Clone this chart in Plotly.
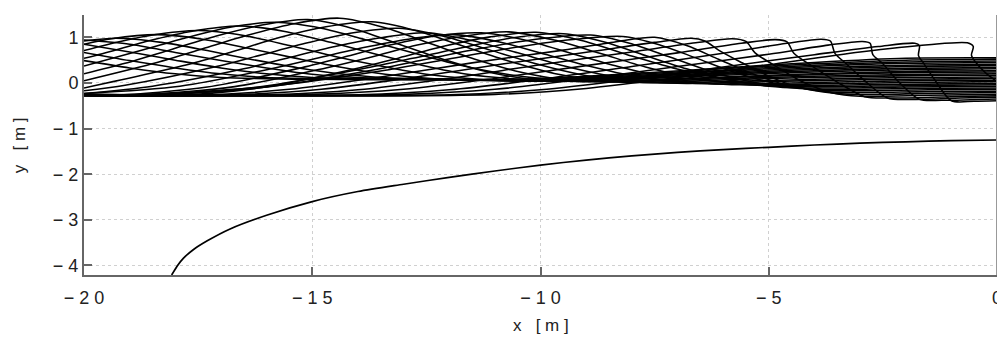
import plotly.graph_objects as go

# ---- bottom profile ----
bottom_x = [-18.08, -17.95, -17.82, -17.6, -17.3, -16.8, -16.0, -15.0, -14.0, -13.0, -12.0, -11.0,
            -10.0, -9.0, -8.0, -7.0, -6.0, -5.0, -4.0, -3.0, -2.0, -1.0, 0.0]
bottom_y = [-4.21, -4.00, -3.84, -3.65, -3.46, -3.20, -2.90, -2.60, -2.38, -2.22, -2.07, -1.93,
            -1.80, -1.69, -1.60, -1.52, -1.46, -1.41, -1.36, -1.32, -1.29, -1.265, -1.25]

# ---- free-surface snapshots (estimated knots, one pair per snapshot) ----
w00_x = [-20, -19, -18, -17, -15, -12.5, -10.5, -8, -6, -4, -2, 0]
w00_y = [0.49, 0.33, 0.20, 0.12, 0.08, 0.07, 0.08, 0.20, 0.33, 0.45, 0.54, 0.55]
w01_x = [-20, -19, -18, -17, -16, -14, -12, -10.5, -8, -6, -4, -2, 0]
w01_y = [0.67, 0.49, 0.33, 0.20, 0.12, 0.09, 0.07, 0.07, 0.18, 0.31, 0.42, 0.50, 0.52]
w02_x = [-20, -19, -18, -17, -16, -15, -13, -10.5, -8, -6, -4, -2, 0]
w02_y = [0.85, 0.68, 0.50, 0.33, 0.20, 0.12, 0.09, 0.06, 0.16, 0.28, 0.39, 0.46, 0.48]
w03_x = [-20, -19, -18, -17, -16, -15, -14, -12, -10.5, -8, -6, -4, -2, 0]
w03_y = [0.94, 0.85, 0.67, 0.49, 0.33, 0.19, 0.12, 0.08, 0.05, 0.14, 0.26, 0.36, 0.43, 0.45]
w04_x = [-20, -19.3, -18.3, -17.3, -16.3, -15.3, -14.3, -13.3, -12, -10.5, -8, -6, -4, -2, 0]
w04_y = [0.92, 0.98, 0.89, 0.71, 0.51, 0.33, 0.19, 0.11, 0.08, 0.04, 0.12, 0.23, 0.33, 0.39, 0.41]
w05_x = [-20, -19.4, -18.4, -17.4, -16.4, -15.4, -14.4, -13.4, -12.4, -11, -10, -8, -6, -4, -2, 0]
w05_y = [0.85, 0.97, 1.06, 0.96, 0.76, 0.55, 0.35, 0.19, 0.10, 0.06, 0.04, 0.11, 0.21, 0.30, 0.36, 0.38]
w06_x = [-20, -19.5, -18.5, -17.5, -16.5, -15.5, -14.5, -13.5, -12.5, -11.5, -10.5, -9.5, -8, -6, -4, -2, 0]
w06_y = [0.71, 0.84, 1.05, 1.15, 1.04, 0.82, 0.58, 0.37, 0.19, 0.09, 0.05, 0.04, 0.09, 0.19, 0.27, 0.32, 0.34]
w07_x = [-20, -19.6, -18.6, -17.6, -16.6, -15.6, -14.6, -13.6, -12.6, -11.6, -10.6, -9.5, -8, -6, -4, -2, 0]
w07_y = [0.54, 0.64, 0.92, 1.14, 1.25, 1.13, 0.89, 0.63, 0.39, 0.19, 0.09, 0.04, 0.08, 0.17, 0.24, 0.29, 0.31]
w08_x = [-20, -18.8, -17.8, -16.8, -15.8, -14.8, -13.8, -12.8, -11.8, -10.8, -9.8, -9, -7, -5, -3, -1.5, 0]
w08_y = [0.37, 0.70, 0.98, 1.22, 1.33, 1.20, 0.94, 0.66, 0.40, 0.20, 0.08, 0.04, 0.09, 0.17, 0.23, 0.26, 0.27]
w09_x = [-20, -19.1, -18.1, -17.1, -16.1, -15.1, -14.1, -13.1, -12.1, -11.1, -10.1, -9.2, -7, -5, -3, -1.5, 0]
w09_y = [0.20, 0.43, 0.73, 1.03, 1.27, 1.39, 1.19, 0.85, 0.51, 0.23, 0.07, 0.03, 0.08, 0.15, 0.21, 0.23, 0.24]
w10_x = [-20, -18.4, -17.4, -16.4, -15.4, -14.4, -13.4, -12.4, -11.4, -10.4, -9.4, -8.6, -7, -5, -3, -1.5, 0]
w10_y = [0.05, 0.45, 0.75, 1.05, 1.30, 1.42, 1.21, 0.86, 0.51, 0.23, 0.06, 0.02, 0.06, 0.12, 0.17, 0.19, 0.20]
w11_x = [-20, -17.7, -16.7, -15.7, -14.7, -13.7, -12.7, -11.7, -10.7, -9.7, -8.7, -8, -6.5, -4.5, -2.5, -1, 0]
w11_y = [-0.11, 0.41, 0.70, 1.00, 1.23, 1.34, 1.14, 0.81, 0.48, 0.21, 0.05, 0.01, 0.05, 0.11, 0.15, 0.17, 0.17]
w12_x = [-20, -19.1, -17.1, -16.1, -15.1, -14.1, -13.1, -12.1, -11.1, -10.1, -9.1, -8.1, -7.4, -6, -4, -2, 0]
w12_y = [-0.17, -0.05, 0.36, 0.62, 0.88, 1.10, 1.20, 1.02, 0.72, 0.42, 0.18, 0.04, 0.00, 0.03, 0.08, 0.12, 0.13]
w13_x = [-20, -18.5, -16.5, -15.5, -14.5, -13.5, -12.5, -11.5, -10.5, -9.5, -8.5, -7.5, -6.8, -5, -3, -1, 0]
w13_y = [-0.23, -0.07, 0.31, 0.56, 0.80, 0.99, 1.10, 0.93, 0.66, 0.38, 0.16, 0.02, -0.01, 0.03, 0.07, 0.09, 0.10]
w14_x = [-20, -17.9, -15.9, -14.9, -13.9, -12.9, -11.9, -10.9, -9.9, -8.9, -7.9, -6.9, -6.2, -4.5, -2.5, -1, 0]
w14_y = [-0.23, -0.07, 0.31, 0.54, 0.77, 0.96, 1.06, 0.90, 0.63, 0.36, 0.14, 0.01, -0.02, 0.00, 0.04, 0.06, 0.06]
w15_x = [-20, -19.3, -17.3, -15.3, -14.3, -13.3, -12.3, -11.3, -10.3, -9.3, -8.3, -7.3, -6.3, -5.6, -4, -2, 0]
w15_y = [-0.27, -0.27, -0.09, 0.32, 0.57, 0.83, 1.03, 1.10, 0.93, 0.64, 0.36, 0.13, -0.01, -0.04, -0.02, 0.01, 0.03]
w16_x = [-20, -18.7, -16.7, -14.7, -13.7, -12.7, -11.7, -10.7, -9.7, -8.7, -7.7, -6.7, -5.7, -5.0, -3, -1, 0]
w16_y = [-0.25, -0.25, -0.08, 0.33, 0.57, 0.83, 1.02, 1.12, 0.94, 0.65, 0.35, 0.12, -0.02, -0.06, -0.04, -0.02, -0.01]
w17_x = [-20, -18.1, -16.1, -14.1, -13.1, -12.1, -11.1, -10.1, -9.1, -8.1, -7.1, -6.1, -5.1, -4.4, -2, 0]
w17_y = [-0.28, -0.28, -0.10, 0.30, 0.55, 0.81, 1.01, 1.11, 0.93, 0.62, 0.33, 0.11, -0.04, -0.08, -0.06, -0.04]
w18_x = [-20, -18.3, -16.1, -13.9, -12.8, -11.7, -10.6, -9.5, -8.6, -7.7, -6.8, -5.9, -5.0, -4.3, -2, 0]
w18_y = [-0.26, -0.26, -0.08, 0.31, 0.54, 0.78, 0.99, 1.08, 0.90, 0.60, 0.31, 0.07, -0.07, -0.11, -0.09, -0.07]
w19_x = [-20, -18.5, -16.1, -13.7, -12.5, -11.3, -10.1, -8.9, -8.05, -7.2, -6.35, -5.5, -4.65, -4.0, -2, 0]
w19_y = [-0.27, -0.27, -0.10, 0.28, 0.52, 0.76, 0.96, 1.05, 0.87, 0.58, 0.28, 0.05, -0.09, -0.14, -0.12, -0.11]
w20_x = [-20, -18.6, -16.0, -13.4, -12.1, -10.8, -9.5, -8.2, -7.4, -6.6, -5.8, -5.0, -4.2, -3.6, -1.5, 0]
w20_y = [-0.25, -0.25, -0.08, 0.28, 0.51, 0.74, 0.93, 1.02, 0.84, 0.55, 0.25, 0.02, -0.12, -0.17, -0.15, -0.14]
w21_x = [-20, -17.5, -15.5, -13.5, -11.5, -9.5, -8.3, -7.5, -6.8, -6.1, -5.4, -4.7, -4.0, -3.4, -1.5, 0]
w21_y = [-0.28, -0.27, -0.14, 0.13, 0.44, 0.72, 0.91, 1.00, 0.82, 0.52, 0.22, -0.02, -0.16, -0.21, -0.19, -0.18]
w22_x = [-20, -16.8, -14.8, -12.8, -10.8, -8.8, -7.5, -6.7, -6.4, -6.1, -5.6, -5.0, -4.4, -3.8, -3.2, -1.5, 0]
w22_y = [-0.26, -0.26, -0.14, 0.12, 0.42, 0.70, 0.89, 0.98, 0.92, 0.72, 0.45, 0.15, -0.08, -0.20, -0.25, -0.23, -0.21]
w23_x = [-20, -16, -14, -12, -10, -8, -6.6, -5.8, -5.5, -5.3, -4.9, -4.25, -3.6, -3.0, -1.5, 0]
w23_y = [-0.27, -0.26, -0.15, 0.10, 0.40, 0.68, 0.88, 0.97, 0.91, 0.66, 0.40, 0.02, -0.22, -0.29, -0.27, -0.25]
w24_x = [-20, -15, -13, -11, -9, -7, -5.6, -4.85, -4.6, -4.45, -4.1, -3.5, -2.9, -2.4, -1, 0]
w24_y = [-0.25, -0.25, -0.14, 0.10, 0.38, 0.66, 0.87, 0.95, 0.90, 0.65, 0.40, 0.02, -0.30, -0.33, -0.30, -0.28]
w25_x = [-20, -14, -12, -10, -8, -6, -4.6, -3.85, -3.65, -3.55, -3.3, -2.9, -2.4, -1.8, -0.8, 0]
w25_y = [-0.28, -0.26, -0.15, 0.08, 0.36, 0.65, 0.87, 0.96, 0.92, 0.65, 0.42, 0.05, -0.33, -0.36, -0.33, -0.31]
w26_x = [-20, -13, -11, -9, -7, -5, -3.7, -2.95, -2.78, -2.72, -2.5, -2.15, -1.7, -1.2, 0]
w26_y = [-0.26, -0.25, -0.14, 0.09, 0.36, 0.63, 0.83, 0.91, 0.87, 0.62, 0.42, 0.02, -0.36, -0.38, -0.35]
w27_x = [-20, -12, -10, -8, -6, -4, -2.6, -1.8, -1.7, -1.72, -1.62, -1.35, -1.0, -0.5, 0]
w27_y = [-0.27, -0.26, -0.15, 0.08, 0.35, 0.62, 0.80, 0.87, 0.82, 0.60, 0.45, 0.05, -0.39, -0.40, -0.39]
w28_x = [-20, -11, -9, -7, -5, -3, -1.5, -0.65, -0.52, -0.56, -0.48, -0.25, 0]
w28_y = [-0.28, -0.25, -0.12, 0.12, 0.40, 0.68, 0.84, 0.88, 0.80, 0.61, 0.47, 0.22, 0.03]

snapshots = [
    (w00_x, w00_y), (w01_x, w01_y), (w02_x, w02_y), (w03_x, w03_y), (w04_x, w04_y),
    (w05_x, w05_y), (w06_x, w06_y), (w07_x, w07_y), (w08_x, w08_y), (w09_x, w09_y),
    (w10_x, w10_y), (w11_x, w11_y), (w12_x, w12_y), (w13_x, w13_y), (w14_x, w14_y),
    (w15_x, w15_y), (w16_x, w16_y), (w17_x, w17_y), (w18_x, w18_y), (w19_x, w19_y),
    (w20_x, w20_y), (w21_x, w21_y), (w22_x, w22_y), (w23_x, w23_y), (w24_x, w24_y),
    (w25_x, w25_y), (w26_x, w26_y), (w27_x, w27_y), (w28_x, w28_y),
]

x_ticks = [-20, -15, -10, -5, 0]
x_tick_text = ["− 2 0", "− 1 5", "− 1 0", "− 5", "0"]
y_ticks = [-4, -3, -2, -1, 0, 1]
y_tick_text = ["− 4", "− 3", "− 2", "− 1", "0", "1"]

wave_line = dict(color="black", width=1.55, shape="spline", smoothing=0.8)
fig = go.Figure()
for xs, ys in snapshots:
    fig.add_trace(go.Scatter(x=xs, y=ys, mode="lines", showlegend=False,
                             hoverinfo="skip", line=wave_line))
fig.add_trace(go.Scatter(x=bottom_x, y=bottom_y, mode="lines", showlegend=False,
                         line=dict(color="black", width=1.7, shape="spline", smoothing=0.8)))

font = dict(family="Liberation Sans, Arial, sans-serif", size=18, color="#222222")
title_font = dict(family="Liberation Sans, Arial, sans-serif", size=17, color="#222222")
axis_common = dict(showgrid=True, gridcolor="#d0d0d0", griddash="dot", gridwidth=1,
                   showline=True, linecolor="#666666", linewidth=2, ticks="inside",
                   ticklen=8, tickcolor="#666666", tickwidth=1.5, zeroline=False,
                   tickfont=font, automargin=False, ticklabeloverflow="allow")
# page body has an 8px margin; figure sized so the plot area sits where the reference's does
fig.update_layout(
    width=997, height=330,
    margin=dict(l=76, r=8, t=7, b=63),
    paper_bgcolor="white", plot_bgcolor="white",
    font=font,
    xaxis=dict(range=[-20, 0], tickvals=x_ticks, ticktext=x_tick_text,
               ticklabelstandoff=5, **axis_common),
    yaxis=dict(range=[-4.21, 1.49], tickvals=y_ticks, ticktext=y_tick_text, **axis_common),
    shapes=[dict(type="line", xref="paper", yref="paper", x0=1, x1=1, y0=0, y1=1,
                 line=dict(color="#999999", width=2))],
    annotations=[
        dict(text="x   [ m ]", xref="paper", yref="paper", x=0.5, y=-0.195,
             xanchor="center", yanchor="middle", showarrow=False, font=title_font),
        dict(text="y   [ m ]", xref="paper", yref="paper", x=-0.071, y=0.5,
             xanchor="center", yanchor="middle", showarrow=False, font=title_font,
             textangle=-90),
    ],
)
fig.write_html("out.html")
